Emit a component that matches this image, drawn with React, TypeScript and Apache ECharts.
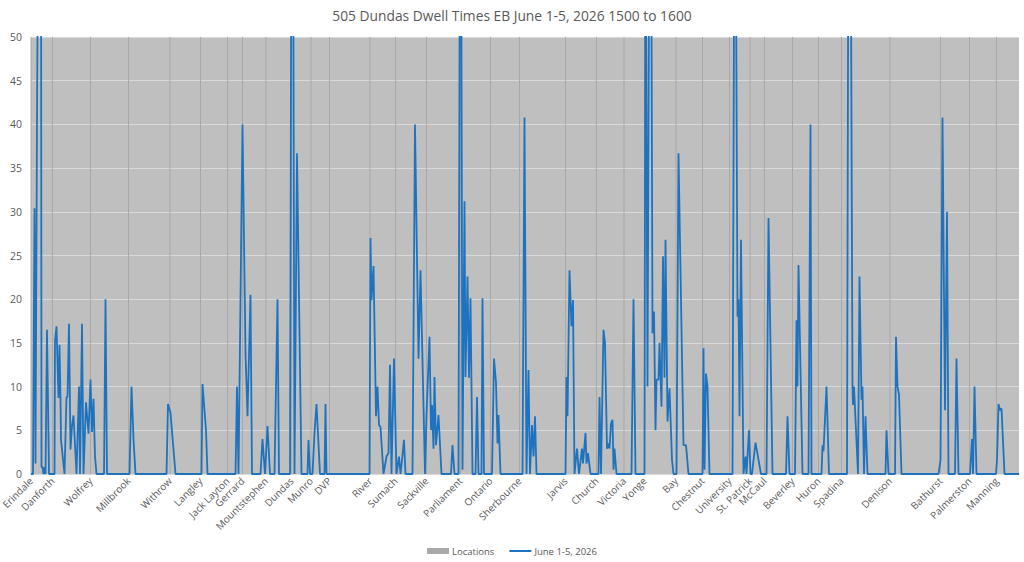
import React, { useEffect, useRef } from "react";
import * as echarts from "echarts";

// Route positions: half-pixel units along the route (0 .. 1976)
const ROUTE_LENGTH = 1977;

const LOCATIONS = [
  "Erindale", "Danforth", "Wolfrey", "Millbrook", "Withrow", "Langley", "Jack Layton",
  "Gerrard", "Mountstephen", "Dundas", "Munro", "DVP", "River", "Sumach", "Sackville",
  "Parliament", "Ontario", "Sherbourne", "Jarvis", "Church", "Victoria", "Yonge", "Bay",
  "Chestnut", "University", "St. Patrick", "McCaul", "Beverley", "Huron", "Spadina",
  "Denison", "Bathurst", "Palmerston", "Manning",
];
const LOCATION_POS = [
  0, 43, 119, 195, 278, 339, 393, 423, 470, 521, 560, 597, 678, 729, 791, 859, 919, 977,
  1069, 1131, 1186, 1227, 1290, 1343, 1397, 1438, 1467, 1523, 1575, 1621, 1718, 1819, 1877, 1931,
];
const LOCATION_BAR_VALUE = 50;

// Dwell time readings: [route position, seconds]
const DWELL_POS = [
  0, 4, 7, 9, 12, 15, 20, 21, 23, 25, 27, 29, 32, 36, 47, 48, 51, 55, 57, 59, 60, 67, 71, 73, 76,
  79, 82, 85, 91, 96, 98, 102, 105, 110, 115, 119, 122, 125, 128, 131, 146, 149, 152, 197, 201,
  205, 209, 271, 274, 279, 289, 341, 343, 350, 353, 409, 412, 415, 423, 429, 433, 439, 442, 459,
  463, 468, 473, 478, 487, 493, 496, 518, 521, 524, 527, 532, 541, 553, 555, 558, 563, 567, 571,
  578, 587, 589, 591, 677, 679, 681, 685, 690, 693, 696, 699, 705, 711, 715, 718, 721, 726, 731,
  736, 739, 742, 746, 749, 763, 768, 775, 779, 788, 791, 797, 800, 802, 805, 807, 810, 815, 821,
  840, 843, 847, 855, 858, 860, 863, 867, 869, 873, 876, 879, 883, 889, 892, 895, 901, 903, 906,
  922, 926, 930, 933, 935, 939, 983, 987, 991, 995, 998, 1002, 1005, 1008, 1011, 1069, 1071,
  1073, 1077, 1081, 1084, 1087, 1092, 1096, 1102, 1104, 1109, 1111, 1114, 1119, 1135, 1137,
  1140, 1145, 1148, 1152, 1155, 1157, 1160, 1163, 1165, 1167, 1171, 1201, 1205, 1209, 1227,
  1229, 1233, 1237, 1240, 1243, 1246, 1249, 1251, 1255, 1257, 1261, 1264, 1267, 1269, 1273,
  1277, 1282, 1285, 1291, 1295, 1305, 1310, 1315, 1343, 1345, 1347, 1350, 1353, 1357, 1403,
  1407, 1409, 1413, 1415, 1417, 1420, 1425, 1429, 1431, 1436, 1439, 1442, 1449, 1460, 1471,
  1475, 1483, 1510, 1513, 1517, 1528, 1531, 1533, 1535, 1543, 1555, 1559, 1561, 1581, 1583,
  1585, 1591, 1596, 1632, 1635, 1639, 1643, 1644, 1646, 1654, 1657, 1661, 1663, 1666, 1669,
  1673, 1709, 1711, 1715, 1728, 1730, 1733, 1736, 1741, 1815, 1819, 1823, 1828, 1832, 1835,
  1848, 1851, 1855, 1878, 1882, 1884, 1887, 1891, 1930, 1932, 1935, 1938, 1941, 1947, 1976,
];
const DWELL_SEC = [
  0, 0, 30.4, 1.2, 40.5, 70, 70, 0.8, 0.8, 0, 0.8, 0, 16.5, 0, 0, 15.3, 16.9, 8.7, 14.8, 8.5, 3.9, 0, 8.8, 8.8, 17.2,
  2.8, 5.5, 6.7, 0, 10, 0, 17.2, 0, 8.2, 4.6, 10.8, 4.8, 8.6, 2, 0, 0, 20, 0, 0, 10,
  4, 0, 0, 8, 7, 0, 0, 10.3, 5, 0, 0, 10, 0, 40, 13.8, 6.6, 20.5, 0, 0,
  4, 0, 5.5, 0, 0, 20, 0, 0, 70, 70, 0, 36.7, 0, 0, 3.9, 0, 0, 4.7, 8,
  0, 0, 8, 0, 0, 27, 19.9, 23.8, 6.6, 10, 5.6, 5.4, 0, 2, 2.4, 12.5, 0, 13.2, 0,
  2, 0, 1.6, 3.9, 0, 0, 40, 13.2, 23.3, 0, 6.75, 15.7, 5, 7.9, 2.9, 11.1, 3.3, 6.75, 0,
  0, 3.3, 0, 0, 70, 70, 0.5, 31.2, 11.1, 22.6, 11, 20.1, 0, 0, 8.8, 0, 0, 20.1, 0,
  0, 13.2, 10.5, 3.5, 6.75, 0, 0, 40.8, 0, 11.9, 0, 5.6, 2, 6.6, 0, 0, 11.1,
  6.6, 23.3, 16.9, 19.9, 0, 2.9, 0, 2.9, 1.2, 4.7, 1.2, 2.4, 0, 0, 8.8,
  0, 16.5, 15, 2.9, 3.5, 2.9, 5.8, 6.2, 0.5, 2.9, 0, 0, 20, 0, 0,
  70, 10, 70, 70, 16.1, 18.6, 5, 10.8, 10.8, 15, 7.7, 24.9, 11, 26.8, 6,
  9.8, 1.6, 0, 0, 36.7, 3.3, 3.3, 0, 0, 14.4, 0.5, 11.5, 10, 0, 0,
  70, 70, 18, 20, 6.6, 26.8, 0, 2, 0, 5, 0, 0, 3.6, 0, 0,
  29.3, 0, 0, 6.6, 0, 0, 17.6, 10, 23.9, 0, 0, 40, 0, 0, 3.3,
  2.6, 10, 0, 0, 70, 70, 10, 7.9, 10, 0, 22.6, 8.5, 10, 0, 6.6,
  0, 0, 5, 0, 0, 15.7, 10, 9.1, 0, 0, 1.6, 40.8, 7.3, 30, 0,
  0, 13.2, 0, 0, 4, 0, 10, 0, 0, 1.6, 8, 7.3, 7.5, 0, 0,
];

const Y_MIN = 0;
const Y_MAX = 50;
const Y_STEP = 5;

const TITLE = "505 Dundas Dwell Times EB June 1-5, 2026 1500 to 1600";
const SERIES_LOCATIONS = "Locations";
const SERIES_DWELL = "June 1-5, 2026";

export default function App() {
  const ref = useRef<HTMLDivElement>(null);

  useEffect(() => {
    if (!ref.current) return;
    const chart = echarts.init(ref.current, undefined, { renderer: "svg" });

    const categories = Array.from({ length: ROUTE_LENGTH }, (_, i) => String(i));
    const nameAt = new Map<number, string>();
    LOCATION_POS.forEach((p, i) => nameAt.set(p, LOCATIONS[i]));

    const lineData = DWELL_POS.map((p, i) => [p, DWELL_SEC[i]]);
    const barData = LOCATION_POS.map((p) => [p, LOCATION_BAR_VALUE]);

    const font = "'Open Sans', 'Noto Sans', sans-serif";
    const textColor = "#595959";
    const blue = "#1F73BE";

    chart.setOption({
      animation: false,
      backgroundColor: "#ffffff",
      textStyle: { fontFamily: font },
      title: {
        text: TITLE,
        left: "center",
        top: 3,
        textStyle: { fontFamily: font, fontSize: 13.8, fontWeight: "normal", color: textColor },
      },
      legend: {
        bottom: 1,
        left: "center",
        itemWidth: 22,
        itemHeight: 6,
        itemGap: 15,
        symbolKeepAspect: true,
        textStyle: { fontFamily: font, fontSize: 9.5, color: textColor, padding: [0, 0, 0, -2] },
        data: [
          { name: SERIES_LOCATIONS, icon: "rect" },
          { name: SERIES_DWELL, icon: "path://M0,0L110,0L110,10L0,10Z" },
        ],
      },
      grid: {
        left: 31,
        right: 5,
        top: 37,
        bottom: 88,
        outerBoundsMode: "none",
        containLabel: false,
        show: true,
        backgroundColor: "#BFBFBF",
        borderWidth: 0,
      },
      xAxis: {
        type: "category",
        data: categories,
        boundaryGap: false,
        axisLine: { show: true, lineStyle: { color: "#D9D9D9" } },
        axisTick: { show: false },
        splitLine: { show: false },
        axisLabel: {
          interval: (index: number) => nameAt.has(index),
          formatter: (_v: string, index: number) => nameAt.get(index) ?? "",
          rotate: 45,
          margin: 5,
          fontSize: 10,
          color: textColor,
          fontFamily: font,
        },
      },
      yAxis: {
        type: "value",
        min: Y_MIN,
        max: Y_MAX,
        interval: Y_STEP,
        axisLine: { show: false },
        axisTick: { show: false },
        splitLine: { show: true, lineStyle: { color: "#D9D9D9", width: 1 } },
        axisLabel: { fontSize: 10.5, color: textColor, margin: 9, fontFamily: font },
      },
      series: [
        {
          name: SERIES_LOCATIONS,
          type: "bar",
          data: barData,
          barWidth: 1,
          itemStyle: { color: "#A9A9A9" },
          silent: true,
        },
        {
          name: SERIES_DWELL,
          type: "line",
          data: lineData,
          symbol: "none",
          showSymbol: false,
          clip: true,
          lineStyle: { color: blue, width: 1.8 },
          itemStyle: { color: blue },
        },
      ],
    });

    return () => chart.dispose();
  }, []);

  return (
    <div
      ref={ref}
      style={{ position: "absolute", left: 0, top: 0, width: 1024, height: 562 }}
    />
  );
}
